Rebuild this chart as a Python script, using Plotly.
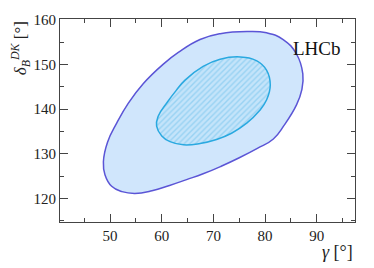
import plotly.graph_objects as go

# 95% (outer) and 68% (inner) confidence contours, gamma [deg] vs delta_B^DK [deg]
outer_gamma = [76.5, 80.3, 83.5, 86.1, 87.3, 87.1, 86.1, 83.7, 81.6, 78.5, 75.0, 71.5, 68.0, 64.8, 61.5,
               58.1, 54.8, 52.3, 50.3, 49.0, 48.7, 49.5, 51.3, 53.5, 56.4, 60.3, 63.2, 67.4, 71.3]
outer_delta = [157.4, 157.1, 155.6, 152.3, 147.9, 144.3, 141.0, 136.4, 133.3, 131.2, 129.1, 127.2, 125.5, 124.2, 122.9,
               121.7, 121.1, 121.5, 122.7, 125.3, 128.2, 132.6, 136.9, 141.3, 145.7, 150.1, 152.7, 155.6, 156.9]

inner_gamma = [75.2, 78.4, 80.3, 81.0, 80.3, 78.8, 76.5, 73.5, 70.6, 67.4, 64.2, 61.6, 60.0, 59.0,
               59.3, 61.1, 62.8, 64.5, 68.0, 71.3]
inner_delta = [151.7, 150.8, 148.7, 145.4, 142.1, 139.5, 136.9, 134.6, 133.2, 132.3, 132.0, 132.7, 134.0, 136.2,
               138.4, 141.6, 144.2, 146.5, 149.6, 151.2]

x_ticks = [50, 60, 70, 80, 90]
y_ticks = [120, 130, 140, 150, 160]

def closed(a):
    return list(a) + [a[0]]

fig = go.Figure()
fig.add_trace(go.Scatter(
    x=closed(outer_gamma), y=closed(outer_delta), mode="lines",
    line=dict(color="#5b55d6", width=1.5, shape="spline", smoothing=1.3),
    fill="toself", fillcolor="#d0e6fc", hoverinfo="skip", showlegend=False))
fig.add_trace(go.Scatter(
    x=closed(inner_gamma), y=closed(inner_delta), mode="lines",
    line=dict(color="#2aa9e0", width=1.5, shape="spline", smoothing=1.3),
    fill="toself", fillcolor="#c4e4fa",
    fillpattern=dict(shape="/", fgcolor="#6cc0ec", bgcolor="#c4e4fa", size=4, solidity=0.35),
    hoverinfo="skip", showlegend=False))

axis_common = dict(
    showgrid=False, zeroline=False, showline=True, linecolor="#444", linewidth=1,
    mirror="ticks", ticks="inside", ticklen=8, tickcolor="#444", tickwidth=1,
    tickfont=dict(family="Liberation Serif", size=15, color="#222"),
    minor=dict(ticks="inside", ticklen=4, tickcolor="#444", dtick=5, showgrid=False),
)
fig.update_xaxes(range=[40.3, 97.4], tickvals=x_ticks, ticktext=[str(v) for v in x_ticks], **axis_common)
fig.update_yaxes(range=[114.7, 160.2], tickvals=y_ticks, ticktext=[str(v) for v in y_ticks], **axis_common)

fig.update_layout(
    width=374, height=268,
    margin=dict(l=60, r=19, t=14, b=46),
    paper_bgcolor="white", plot_bgcolor="white",
    annotations=[
        dict(text="<i>γ</i> [°]", xref="paper", yref="paper", x=1.0, y=-0.15,
             xanchor="right", yanchor="middle", showarrow=False,
             font=dict(family="Liberation Serif", size=18, color="#222")),
        dict(text="<i>δ</i><sub><i>B</i></sub><sup><i>DK</i></sup> [°]", xref="paper", yref="paper",
             x=-0.135, y=1.0, xanchor="center", yanchor="top", textangle=-90, showarrow=False,
             font=dict(family="Liberation Serif", size=17, color="#222")),
        dict(text="LHCb", xref="paper", yref="paper", x=0.87, y=0.855,
             xanchor="center", yanchor="middle", showarrow=False,
             font=dict(family="Liberation Serif", size=19, color="#111")),
    ],
)

fig.write_html("out.html", include_plotlyjs=True, config={"displayModeBar": False},
               post_script="document.body.style.margin='0px';")
